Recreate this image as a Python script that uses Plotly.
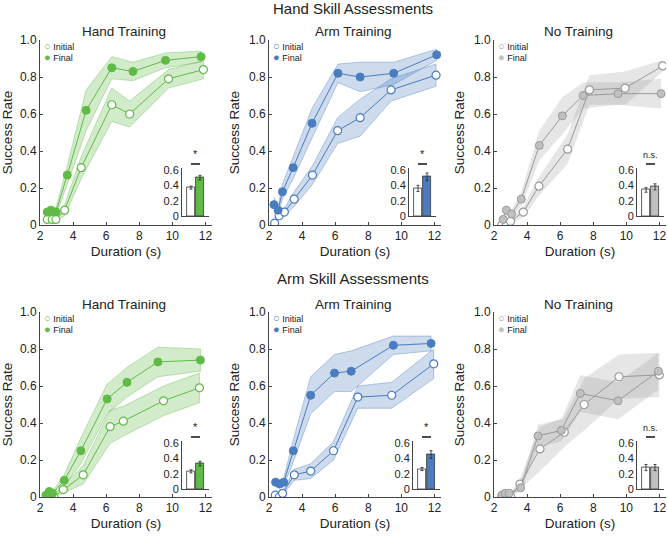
import plotly.graph_objects as go

W, H = 668, 536

# ---- data: (Hand / Arm assessments) x (Hand / Arm / No training) ----
hh_x_init = [2.44, 2.74, 2.96, 3.49, 4.49, 6.34, 7.42, 9.77, 11.88]
hh_y_init = [0.03, 0.03, 0.03, 0.08, 0.31, 0.65, 0.60, 0.79, 0.84]
hh_e_init = [0.01, 0.01, 0.01, 0.03, 0.06, 0.09, 0.07, 0.05, 0.05]
hh_x_final = [2.44, 2.66, 2.96, 3.65, 4.79, 6.34, 7.62, 9.59, 11.74]
hh_y_final = [0.07, 0.08, 0.07, 0.27, 0.62, 0.85, 0.83, 0.89, 0.91]
hh_e_final = [0.02, 0.02, 0.02, 0.05, 0.11, 0.06, 0.05, 0.04, 0.03]

ha_x_init = [2.34, 2.61, 2.93, 3.52, 4.63, 6.15, 7.51, 9.38, 12.10]
ha_y_init = [0.01, 0.05, 0.07, 0.14, 0.27, 0.51, 0.58, 0.73, 0.81]
ha_e_init = [0.01, 0.02, 0.02, 0.04, 0.05, 0.07, 0.10, 0.06, 0.06]
ha_x_final = [2.30, 2.55, 2.81, 3.46, 4.60, 6.17, 7.51, 9.54, 12.14]
ha_y_final = [0.11, 0.08, 0.18, 0.31, 0.55, 0.82, 0.80, 0.82, 0.92]
ha_e_final = [0.04, 0.02, 0.04, 0.06, 0.08, 0.05, 0.08, 0.06, 0.03]

hn_x_init = [2.47, 2.75, 3.00, 3.77, 4.72, 6.45, 7.77, 9.93, 12.20]
hn_y_init = [0.00, 0.00, 0.02, 0.07, 0.21, 0.41, 0.73, 0.74, 0.86]
hn_e_init = [0.01, 0.01, 0.01, 0.03, 0.05, 0.08, 0.08, 0.09, 0.03]
hn_x_final = [2.55, 2.75, 3.06, 3.65, 4.74, 6.13, 7.39, 9.50, 12.10]
hn_y_final = [0.03, 0.08, 0.06, 0.14, 0.43, 0.59, 0.70, 0.71, 0.71]
hn_e_final = [0.02, 0.03, 0.02, 0.04, 0.08, 0.10, 0.07, 0.06, 0.08]

ah_x_init = [2.40, 2.60, 2.84, 3.41, 4.61, 6.24, 7.04, 9.47, 11.64]
ah_y_init = [0.005, 0.0, 0.0, 0.04, 0.12, 0.38, 0.41, 0.52, 0.59]
ah_e_init = [0.01, 0.01, 0.01, 0.02, 0.05, 0.09, 0.08, 0.08, 0.08]
ah_x_final = [2.36, 2.56, 2.76, 3.47, 4.47, 6.06, 7.26, 9.13, 11.70]
ah_y_final = [0.01, 0.03, 0.02, 0.09, 0.25, 0.53, 0.62, 0.73, 0.74]
ah_e_final = [0.01, 0.01, 0.01, 0.03, 0.07, 0.08, 0.08, 0.08, 0.06]

aa_x_init = [2.38, 2.62, 2.82, 3.53, 4.52, 5.90, 7.37, 9.42, 11.96]
aa_y_init = [0.01, 0.0, 0.02, 0.12, 0.14, 0.25, 0.54, 0.55, 0.72]
aa_e_init = [0.01, 0.01, 0.01, 0.03, 0.04, 0.05, 0.06, 0.07, 0.08]
aa_x_final = [2.40, 2.64, 2.89, 3.47, 4.52, 5.96, 6.97, 9.52, 11.80]
aa_y_final = [0.08, 0.07, 0.08, 0.25, 0.55, 0.67, 0.68, 0.82, 0.83]
aa_e_final = [0.02, 0.02, 0.02, 0.06, 0.10, 0.10, 0.11, 0.05, 0.04]

an_x_init = [2.47, 2.69, 3.02, 3.57, 4.78, 6.25, 7.45, 9.56, 12.00]
an_y_init = [0.005, 0.005, 0.0, 0.07, 0.26, 0.35, 0.50, 0.65, 0.66]
an_e_init = [0.01, 0.01, 0.01, 0.03, 0.12, 0.08, 0.14, 0.12, 0.12]
an_x_final = [2.49, 2.67, 2.91, 3.61, 4.66, 6.07, 7.22, 9.50, 11.94]
an_y_final = [0.01, 0.02, 0.02, 0.05, 0.33, 0.36, 0.56, 0.52, 0.68]
an_e_final = [0.01, 0.01, 0.01, 0.02, 0.06, 0.06, 0.10, 0.10, 0.10]

# inset bar charts (mean success rate)
bar_init = [0.37, 0.36, 0.34, 0.23, 0.26, 0.28]
bar_final = [0.50, 0.51, 0.38, 0.33, 0.45, 0.28]
bar_init_err = [0.02, 0.04, 0.03, 0.02, 0.02, 0.04]
bar_final_err = [0.03, 0.05, 0.04, 0.03, 0.05, 0.04]
sig_labels = ['*', '*', 'n.s.', '*', '*', 'n.s.']

row_titles = ['Hand Skill Assessments', 'Arm Skill Assessments']
col_titles = ['Hand Training', 'Arm Training', 'No Training']

panels = [
    (hh_x_init, hh_y_init, hh_e_init, hh_x_final, hh_y_final, hh_e_final),
    (ha_x_init, ha_y_init, ha_e_init, ha_x_final, ha_y_final, ha_e_final),
    (hn_x_init, hn_y_init, hn_e_init, hn_x_final, hn_y_final, hn_e_final),
    (ah_x_init, ah_y_init, ah_e_init, ah_x_final, ah_y_final, ah_e_final),
    (aa_x_init, aa_y_init, aa_e_init, aa_x_final, aa_y_final, aa_e_final),
    (an_x_init, an_y_init, an_e_init, an_x_final, an_y_final, an_e_final),
]

# colour schemes per column: (line, final fill, band, band edge)
schemes = [
    ('#5fba46', '#5fba46', 'rgba(95,186,70,0.28)', 'rgba(95,186,70,0.55)'),
    ('#4a7cc0', '#4a7cc0', 'rgba(74,124,192,0.28)', 'rgba(74,124,192,0.55)'),
    ('#9a9a9a', '#c0c0c0', 'rgba(140,140,140,0.22)', 'rgba(140,140,140,0.0)'),
]

FONT = 'Liberation Sans, Arial, sans-serif'
TXT = '#222222'

# pixel geometry
main_left = [40, 269, 494]
main_w = 172
main_top = [40, 312]
main_h = 185
XR = [2, 12.4]
inset_left = [182, 409, 637, 182, 413, 637]
inset_w = 27
inset_bottom = [216, 489]
IR_Y = [0, 0.62]
IR_X = [-1, 2]
inset_h = 0.62 * 76.7


def px(x):
    return x / W


def py(y):
    return 1 - y / H


fig = go.Figure()
layout = {}
annotations = []
shapes = []

for i, (xi, yi, ei, xf, yf, ef) in enumerate(panels):
    row, col = divmod(i, 3)
    n = i + 1
    line_c, fill_c, band_c, edge_c = schemes[col]
    xa, ya = 'x%d' % n, 'y%d' % n

    # shaded bands
    for xs, ys, es in [(xi, yi, ei), (xf, yf, ef)]:
        up = [y + e for y, e in zip(ys, es)]
        lo = [max(y - e, 0) for y, e in zip(ys, es)]
        fig.add_trace(go.Scatter(
            x=xs + xs[::-1], y=up + lo[::-1], fill='toself', fillcolor=band_c,
            line=dict(color=edge_c, width=0.7), mode='lines',
            hoverinfo='skip', showlegend=False, xaxis=xa, yaxis=ya))
    # initial (open) and final (filled)
    fig.add_trace(go.Scatter(
        x=xi, y=yi, mode='lines+markers', showlegend=False,
        line=dict(color=line_c, width=1),
        marker=dict(size=8, color='white', line=dict(color=line_c, width=1.2)),
        xaxis=xa, yaxis=ya))
    fig.add_trace(go.Scatter(
        x=xf, y=yf, mode='lines+markers', showlegend=False,
        line=dict(color=line_c, width=1),
        marker=dict(size=8, color=fill_c, line=dict(color=line_c, width=1)),
        xaxis=xa, yaxis=ya))

    x0 = main_left[col]
    y0 = main_top[row]
    ax_common = dict(showline=True, linecolor='#444', linewidth=1, ticks='inside',
                     ticklen=3, tickcolor='#444', showgrid=False, zeroline=False,
                     automargin=False,
                     tickfont=dict(size=12, color=TXT, family=FONT))
    layout['xaxis%d' % n] = dict(
        ax_common, domain=[px(x0), px(x0 + main_w)], range=XR, anchor=ya,
        tickvals=[2, 4, 6, 8, 10, 12],
        title=dict(text='Duration (s)', font=dict(size=13.5, color=TXT, family=FONT), standoff=4))
    layout['yaxis%d' % n] = dict(
        ax_common, domain=[py(y0 + main_h), py(y0)], range=[0, 1], anchor=xa,
        tickvals=[0, 0.2, 0.4, 0.6, 0.8, 1.0], ticktext=['0', '0.2', '0.4', '0.6', '0.8', '1.0'],
        title=dict(text='Success Rate', font=dict(size=13.5, color=TXT, family=FONT), standoff=6))

    # column subtitle
    annotations.append(dict(
        text=col_titles[col], x=px(x0 + main_w / 2 - 2), y=py(y0 - 8), xref='paper', yref='paper',
        showarrow=False, xanchor='center', yanchor='middle',
        font=dict(size=13.5, color=TXT, family=FONT)))
    # legend
    annotations.append(dict(
        text='<span style="color:%s;font-size:11px">○</span> Initial' % line_c,
        x=px(x0 + 2), y=py(y0 + 6),
        xref='paper', yref='paper', showarrow=False, xanchor='left', yanchor='middle',
        font=dict(size=9, color=TXT, family=FONT)))
    annotations.append(dict(
        text='<span style="color:%s;font-size:11px">●</span> Final' % fill_c,
        x=px(x0 + 2), y=py(y0 + 17),
        xref='paper', yref='paper', showarrow=False, xanchor='left', yanchor='middle',
        font=dict(size=9, color=TXT, family=FONT)))

    # inset bar chart
    m = n + 6
    ixa, iya = 'x%d' % m, 'y%d' % m
    il = inset_left[i]
    ib = inset_bottom[row]
    fig.add_trace(go.Bar(
        x=[0, 1], y=[bar_init[i], bar_final[i]], width=0.8,
        marker=dict(color=['white', fill_c], line=dict(color='#333', width=0.8)),
        error_y=dict(type='data', array=[bar_init_err[i], bar_final_err[i]],
                     color='#222', thickness=0.8, width=1.5),
        showlegend=False, xaxis=ixa, yaxis=iya))
    layout['xaxis%d' % m] = dict(
        domain=[px(il), px(il + inset_w)], range=IR_X, anchor=iya, showline=True,
        linecolor='#444', linewidth=1, showticklabels=False, ticks='', showgrid=False,
        zeroline=False, automargin=False)
    layout['yaxis%d' % m] = dict(
        domain=[py(ib), py(ib - inset_h)], range=IR_Y, anchor=ixa, showline=True,
        linecolor='#444', linewidth=1, ticks='', showgrid=False, zeroline=False,
        automargin=False,
        tickvals=[0, 0.2, 0.4, 0.6], ticktext=['0', '0.2', '0.4', '0.6'],
        tickfont=dict(size=11, color=TXT, family=FONT))
    # significance marker
    c0 = il + (0 - IR_X[0]) / (IR_X[1] - IR_X[0]) * inset_w
    c1 = il + (1 - IR_X[0]) / (IR_X[1] - IR_X[0]) * inset_w
    sy = ib - 0.6 * 76.7 - 6
    shapes.append(dict(type='line', xref='paper', yref='paper', x0=px(c0), x1=px(c1),
                       y0=py(sy), y1=py(sy), line=dict(color='#111', width=1.5)))
    annotations.append(dict(
        text=sig_labels[i], x=px((c0 + c1) / 2), y=py(sy - 2), xref='paper', yref='paper',
        showarrow=False, xanchor='center', yanchor='bottom',
        font=dict(size=9 if sig_labels[i] == 'n.s.' else 11, color=TXT, family=FONT)))

# row titles
for r, t in enumerate(row_titles):
    annotations.append(dict(
        text=t, x=px(353), y=py([9, 278][r]), xref='paper', yref='paper', showarrow=False,
        xanchor='center', yanchor='middle', font=dict(size=15, color=TXT, family=FONT)))

fig.update_layout(
    width=W, height=H, margin=dict(l=0, r=0, t=0, b=0),
    paper_bgcolor='white', plot_bgcolor='white',
    font=dict(family=FONT, color=TXT), bargap=0,
    annotations=annotations, shapes=shapes, **layout)

# drop the default page margin so the figure sits at the window's top-left
fig.write_html("out.html", config={'displayModeBar': False},
               post_script="document.body.style.margin='0';")
